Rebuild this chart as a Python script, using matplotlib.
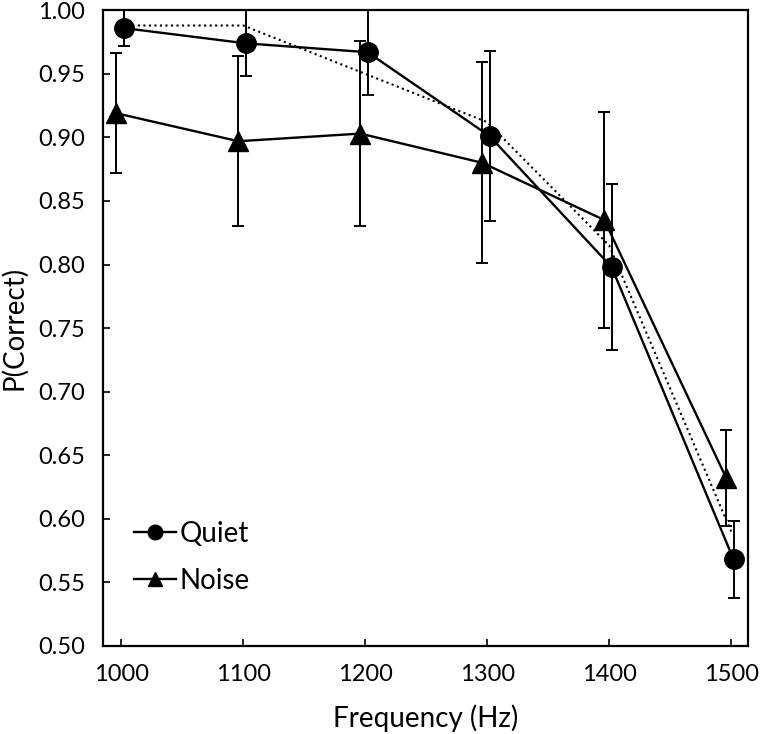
import numpy as np
import matplotlib
matplotlib.use("Agg")
import matplotlib.pyplot as plt

plt.rcParams['font.family'] = ['Lato', 'DejaVu Sans']

freq = [1000, 1100, 1200, 1300, 1400, 1500]
quiet = [0.986, 0.974, 0.967, 0.901, 0.798, 0.568]
quiet_err = [0.014, 0.026, 0.034, 0.067, 0.065, 0.030]
noise = [0.919, 0.897, 0.903, 0.880, 0.835, 0.632]
noise_err = [0.047, 0.067, 0.073, 0.079, 0.085, 0.038]
model = [0.988, 0.988, 0.950, 0.912, 0.815, 0.590]

fx = np.array(freq)

fig = plt.figure(figsize=(7.6, 7.34), dpi=100)
ax = fig.add_axes([0.1355, 0.12, 0.849, 0.866])

ax.plot(fx, model, linestyle=':', color='black', linewidth=1.5, zorder=1)
q = ax.errorbar(fx + 2, quiet, yerr=quiet_err, fmt='-o', color='black',
                markersize=14, linewidth=1.7, elinewidth=1.4, capsize=4,
                capthick=1.4, zorder=3)
n = ax.errorbar(fx - 4, noise, yerr=noise_err, fmt='-^', color='black',
                markersize=14, linewidth=1.7, elinewidth=1.4, capsize=4,
                capthick=1.4, zorder=2)

ax.set_xlim(985, 1514)
ax.set_ylim(0.5, 1.0)
ax.set_xticks(freq)
yt = np.arange(0.5, 1.001, 0.05)
ax.set_yticks(yt)
ax.set_yticklabels(['%.2f' % v for v in yt])
ax.tick_params(direction='in', length=5, width=1.2, labelsize=17, pad=13)
for s in ax.spines.values():
    s.set_linewidth(1.6)

ax.set_xlabel('Frequency (Hz)', fontsize=20, labelpad=14)
ax.set_ylabel('P(Correct)', fontsize=20, labelpad=8)

ax.legend([q[0], n[0]], ['Quiet', 'Noise'], loc='upper left',
          bbox_to_anchor=(0.048, 0.197), frameon=False, borderpad=0,
          borderaxespad=0, fontsize=20, markerscale=0.75, handlelength=1.5,
          handletextpad=0.15, labelspacing=0.75)

fig.savefig('out.png', dpi=100)
